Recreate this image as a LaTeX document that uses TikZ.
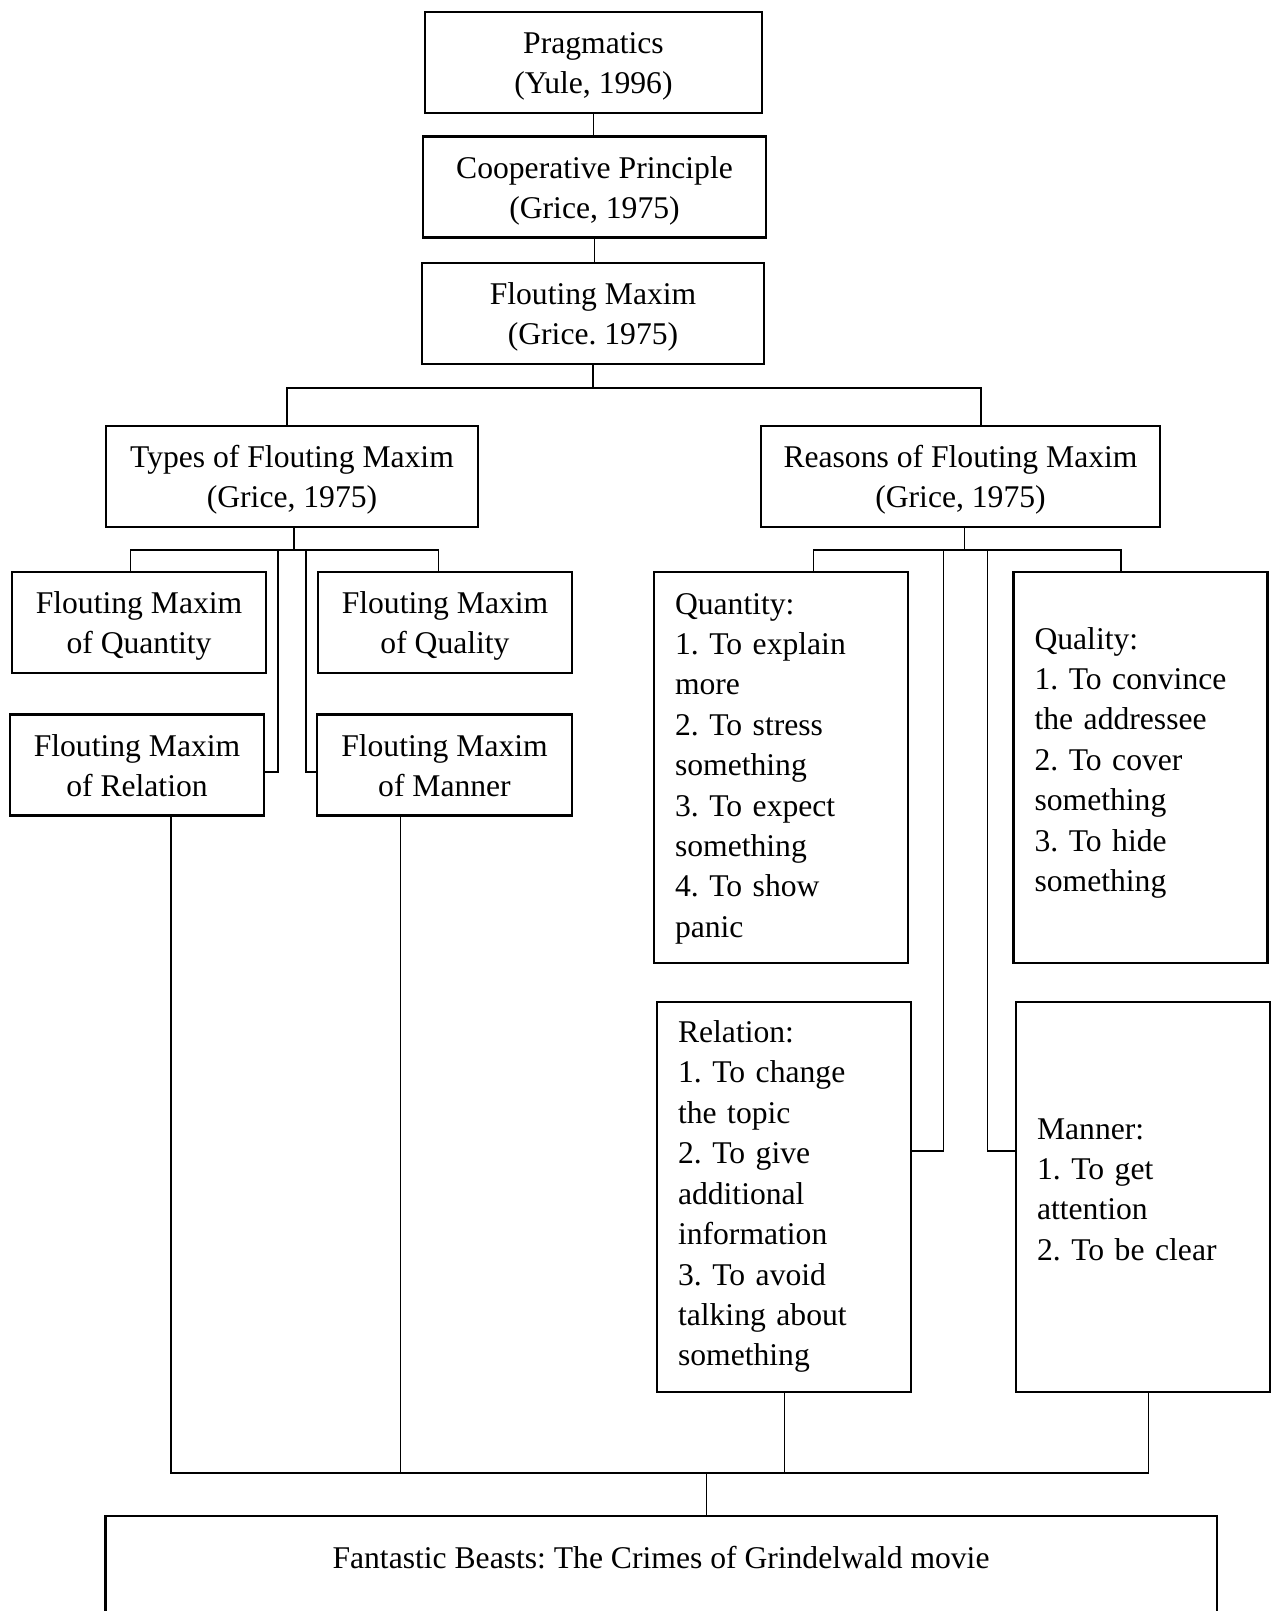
\documentclass[tikz,border=0pt]{standalone}
\usepackage{fontspec}
\setmainfont{Liberation Serif}
\usetikzlibrary{positioning}
\tikzset{
        mainbox/.style={draw, line width=1.6pt, align=center, inner xsep=0pt, inner ysep=0pt, text height=1.64cm, text depth=.38cm},
        reasonbox/.style={draw, line width=1.6pt, align=left, text width=4.24cm, inner xsep=.42cm, inner ysep=0pt, font=\fontsize{18pt}{23pt}\selectfont},
        conn/.style={line width=.6pt},
}

\begin{document}
\frenchspacing
\begin{tikzpicture}[x=.02cm, y=-.02cm, font=\fontsize{18pt}{22.8pt}\selectfont]
        \useasboundingbox (0,0) rectangle (1272,1611);
        \node[mainbox, minimum width=6.74cm] (prag) at (593.5,62.5) {Pragmatics\\(Yule, 1996)};
        \node[mainbox, minimum width=6.86cm] (coop) at (594.5,187) {Cooperative Principle\\(Grice, 1975)};
        \node[mainbox, minimum width=6.84cm] (flout) at (593,313.5) {Flouting Maxim\\(Grice. 1975)};
        \node[mainbox, minimum width=7.44cm] (types) at (292,476.5) {Types of Flouting Maxim\\(Grice, 1975)};
        \node[mainbox, minimum width=7.98cm] (reasons) at (960.5,476.5) {Reasons of Flouting Maxim\\(Grice, 1975)};

        \node[mainbox, minimum width=5.08cm] (fquant) at (139,622.5) {Flouting Maxim\\of Quantity};
        \node[mainbox, minimum width=5.08cm] (fqual) at (445,622.5) {Flouting Maxim\\of Quality};
        \node[mainbox, minimum width=5.08cm] (frel) at (137,765) {Flouting Maxim\\of Relation};
        \node[mainbox, minimum width=5.1cm] (fmann) at (444.5,765) {Flouting Maxim\\of Manner};

        \node[reasonbox, text height=.84cm, text depth=6.98cm] (rquant) at (781,767.5) {Quantity:\\1. To explain\\more\\2. To stress\\something\\3. To expect\\something\\4. To show\\panic};
        \node[reasonbox, text height=1.54cm, text depth=6.28cm] (rqual) at (1140.5,767.5) {Quality:\\1. To convince\\the addressee\\2. To cover\\something\\3. To hide\\something};
        \node[reasonbox, text height=.81cm, text depth=6.99cm] (rrel) at (784,1197) {Relation:\\1. To change\\the topic\\2. To give\\additional\\information\\3. To avoid\\talking about\\something};
        \node[reasonbox, text height=2.74cm, text depth=5.06cm] (rmann) at (1143,1197) {Manner:\\1. To get\\attention\\2. To be clear};

        \node[mainbox, minimum width=22.24cm, text height=1.04cm, text depth=1.96cm] (movie) at (661,1591) {Fantastic Beasts: The Crimes of Grindelwald movie};

        \coordinate (tl) at (287,388);
        \coordinate (tr) at (981,388);
        \coordinate (tf) at (294,550);
        \coordinate (tfl) at (130.5,550);
        \coordinate (tfr) at (438.6,550);
        \coordinate (tfi) at (278,550);
        \coordinate (tfj) at (306,550);
        \coordinate (hl) at (278,772);
        \coordinate (hr) at (306,772);
        \coordinate (rf) at (964.6,550);
        \coordinate (rfl) at (813.5,550);
        \coordinate (rfr) at (1121,550);
        \coordinate (rfi) at (943.7,550);
        \coordinate (rfj) at (987.5,550);
        \coordinate (rhl) at (943.7,1151);
        \coordinate (rhr) at (987.5,1151);
        \coordinate (b1) at (171,1473);
        \coordinate (b2) at (400.7,1473);
        \coordinate (b3) at (784.5,1473);
        \coordinate (b4) at (1148.7,1473);
        \coordinate (bm) at (706.6,1473);

        \draw[conn] (prag.south) -- (prag.south |- coop.north);
        \draw[conn] (coop.south) -- (coop.south |- flout.north);
        \draw[conn] (flout.south) -- (flout.south |- tl);
        \draw[conn] (types.north -| tl) -- (tl) -- (tr) -- (reasons.north -| tr);

        \draw[conn] (types.south -| tf) -- (tf);
        \draw[conn] (fquant.north -| tfl) -- (tfl) -- (tfr) -- (fqual.north -| tfr);
        \draw[conn] (tfi) -- (hl) -- (frel.east |- hl);
        \draw[conn] (tfj) -- (hr) -- (fmann.west |- hr);

        \draw[conn] (reasons.south -| rf) -- (rf);
        \draw[conn] (rquant.north -| rfl) -- (rfl) -- (rfr) -- (rqual.north -| rfr);
        \draw[conn] (rfi) -- (rhl) -- (rrel.east |- rhl);
        \draw[conn] (rfj) -- (rhr) -- (rmann.west |- rhr);

        \draw[conn] (frel.south -| b1) -- (b1) -- (b4) -- (rmann.south -| b4);
        \draw[conn] (fmann.south -| b2) -- (b2);
        \draw[conn] (rrel.south -| b3) -- (b3);
        \draw[conn] (bm) -- (movie.north -| bm);
\end{tikzpicture}
\end{document}
